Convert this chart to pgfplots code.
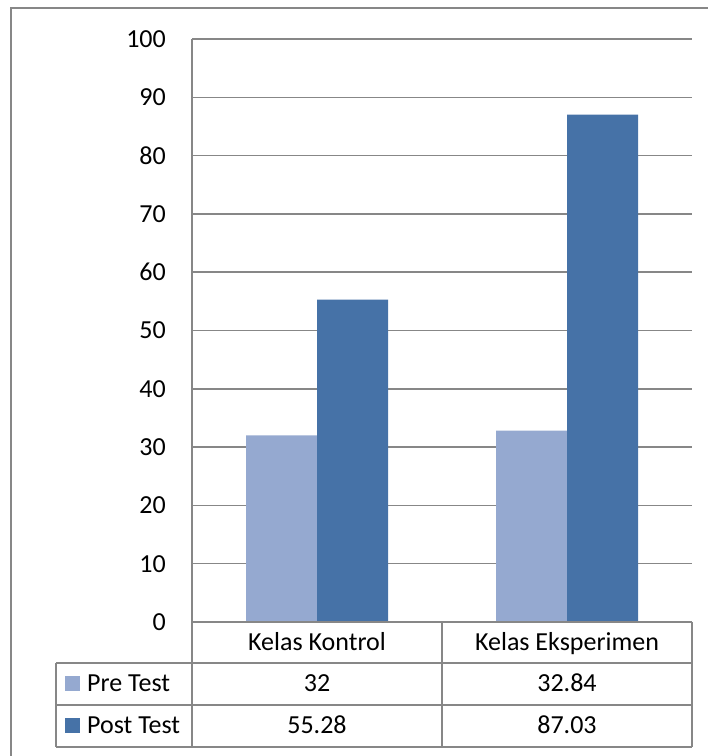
\documentclass[border=0pt]{standalone}
\usepackage{pgfplots}
\pgfplotsset{compat=1.18}
\usepackage{fontspec}
\setmainfont{Carlito}
\definecolor{preC}{HTML}{95A9D0}
\definecolor{postC}{HTML}{4672A7}
\definecolor{gridC}{HTML}{878787}
\begin{document}
\begin{tikzpicture}[x=1pt,y=1pt,font=\fontsize{26}{30}\selectfont]
\useasboundingbox (0,0) rectangle (708,756);
% outer frame (left and top visible)
\draw[gridC,line width=1.5pt] (11,0) -- (11,748) -- (708,748);
\begin{axis}[
  at={(192pt,134pt)}, anchor=south west,
  scale only axis, width=500pt, height=583pt,
  xmin=-0.5, xmax=1.5, ymin=0, ymax=100,
  ybar=0pt, bar width=71pt,
  xtick=data, xticklabels={Kelas Kontrol, Kelas Eksperimen},
  xticklabel style={anchor=base, yshift=-29pt, inner sep=0pt},
  major tick length=0pt,
  ytick={0,10,...,100},
  yticklabel style={anchor=east, inner sep=0pt, xshift=-26pt},
  /pgf/number format/assume math mode=true,
  ymajorgrids, grid style={gridC,line width=1.5pt},
  axis line style={draw=none},
  tick label style={font=\fontsize{26}{30}\selectfont},
  clip=false,
]
\addplot[fill=preC,draw=none] coordinates {(0,32) (1,32.84)};
\addplot[fill=postC,draw=none] coordinates {(0,55.28) (1,87.03)};
\end{axis}
% left axis line
\draw[gridC,line width=1.5pt] (192,717) -- (192,134);
% data table
\begin{scope}[gridC,line width=1.5pt]
\draw (192,134) -- (692,134);
\draw (56,93) -- (692,93);
\draw (56,51) -- (692,51);
\draw (56,9) -- (692,9);
\draw (56,93) -- (56,9);
\draw (192,134) -- (192,9);
\draw (442,134) -- (442,9);
\draw (692,134) -- (692,9);
\end{scope}
\fill[preC] (65,64.5) rectangle (80,79.5);
\fill[postC] (65,23) rectangle (80,38);
\node[anchor=base west,inner sep=0pt] at (87,64) {Pre Test};
\node[anchor=base west,inner sep=0pt] at (87,22.5) {Post Test};
\node[anchor=base,inner sep=0pt] at (317,64) {32};
\node[anchor=base,inner sep=0pt] at (567,64) {32.84};
\node[anchor=base,inner sep=0pt] at (317,22.5) {55.28};
\node[anchor=base,inner sep=0pt] at (567,22.5) {87.03};
\end{tikzpicture}
\end{document}
